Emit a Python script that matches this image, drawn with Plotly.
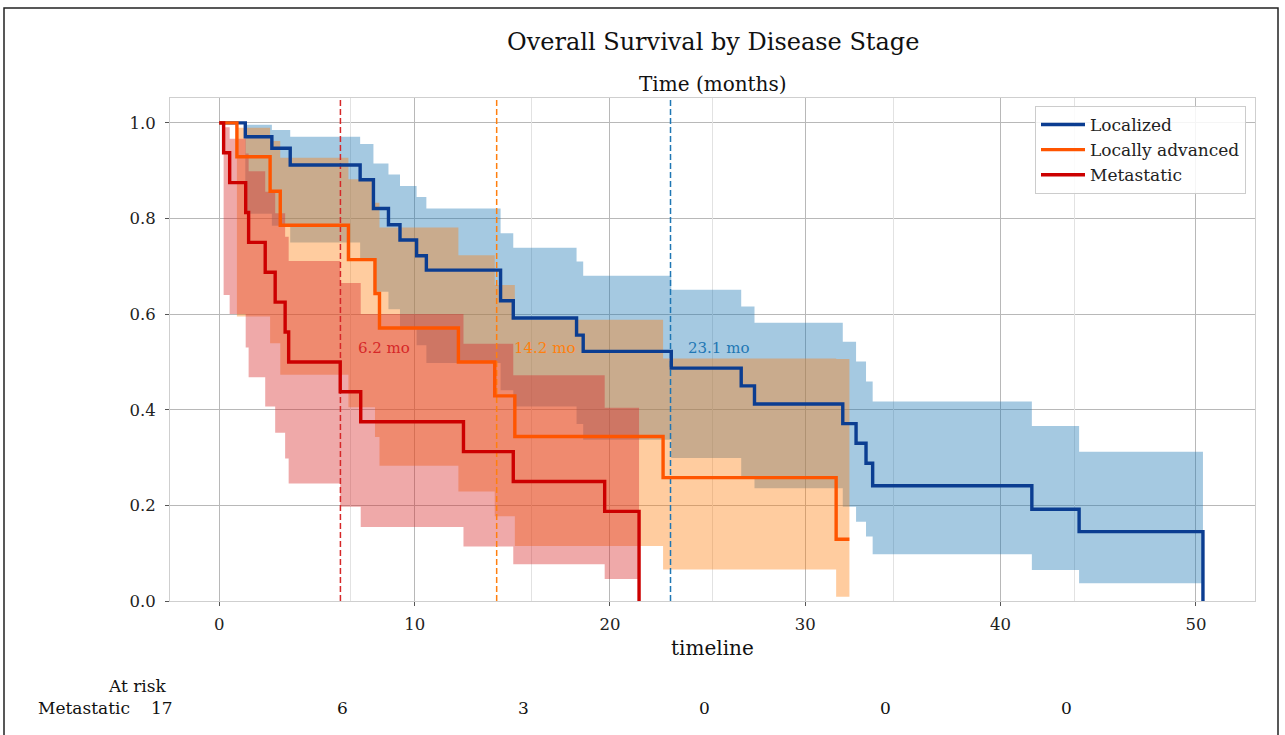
import plotly.graph_objects as go

FONT = "DejaVu Serif"

# ---------------- data ----------------
groups = ["Localized", "Locally advanced", "Metastatic"]

# Localized
t_loc = [0, 1.33, 2.69, 3.63, 7.21, 7.89, 8.66, 9.25, 10.1, 10.6, 14.4, 15.05, 18.29, 18.63,
         23.14, 26.72, 27.4, 31.92, 32.6, 33.11, 33.45, 41.6, 44.02, 50.36]
s_loc = [1.0, 0.971, 0.947, 0.912, 0.881, 0.821, 0.787, 0.755, 0.722, 0.692, 0.628, 0.592, 0.556, 0.522,
         0.487, 0.450, 0.412, 0.371, 0.330, 0.288, 0.241, 0.192, 0.145, 0.0]
up_loc = [1.0, 0.996, 0.985, 0.971, 0.956, 0.915, 0.892, 0.868, 0.845, 0.821, 0.769, 0.739, 0.710, 0.680,
          0.651, 0.616, 0.582, 0.542, 0.501, 0.459, 0.417, 0.366, 0.312]
lo_loc = [1.0, 0.81, 0.785, 0.75, 0.715, 0.647, 0.61, 0.568, 0.535, 0.498, 0.441, 0.407, 0.37, 0.337,
          0.299, 0.26, 0.236, 0.197, 0.166, 0.135, 0.098, 0.065, 0.037]

# Locally advanced
t_la = [0, 0.9, 2.6, 3.12, 6.61, 7.97, 8.2, 12.24, 14.1, 15.13, 22.72, 31.58]
t_la_end = 32.26
s_la = [1.0, 0.929, 0.857, 0.786, 0.714, 0.643, 0.571, 0.5, 0.429, 0.344, 0.258, 0.129]
up_la = [1.0, 0.99, 0.962, 0.927, 0.882, 0.833, 0.781, 0.723, 0.661, 0.588, 0.507, 0.506]
lo_la = [1.0, 0.595, 0.539, 0.473, 0.405, 0.343, 0.283, 0.229, 0.177, 0.115, 0.066, 0.009]

# Metastatic
t_met = [0, 0.22, 0.53, 1.35, 1.5, 2.35, 2.86, 3.37, 3.55, 6.19, 7.24, 12.5, 15.05, 19.73, 21.49]
s_met = [1.0, 0.9375, 0.875, 0.8125, 0.75, 0.6875, 0.625, 0.5625, 0.5, 0.4375, 0.375, 0.3125, 0.25,
         0.1875, 0.0]
up_met = [1.0, 0.991, 0.967, 0.936, 0.899, 0.856, 0.811, 0.762, 0.711, 0.665, 0.6, 0.538, 0.472, 0.404]
lo_met = [1.0, 0.64, 0.60, 0.53, 0.468, 0.407, 0.352, 0.298, 0.246, 0.197, 0.155, 0.114, 0.077, 0.046]

medians = [23.1, 14.2, 6.2]  # Localized, Locally advanced, Metastatic

x_ticks = [0, 10, 20, 30, 40, 50]
y_ticks = [0.0, 0.2, 0.4, 0.6, 0.8, 1.0]

risk_label = "Metastatic"
risk_counts = [17, 6, 3, 0, 0, 0]
risk_pos = [0, 1, 2, 3, 4, 5]

# ---------------- styles ----------------
line_colors = ["#0b3d91", "#ff5500", "#cc0000"]
fill_colors = ["rgba(31,119,180,0.4)", "rgba(255,127,14,0.4)", "rgba(214,39,40,0.4)"]
med_colors = ["#1f77b4", "#ff7f0e", "#d62728"]

fig = go.Figure()

bands = [
    (t_loc, up_loc + [up_loc[-1]], lo_loc + [lo_loc[-1]]),
    (t_la + [t_la_end], up_la + [up_la[-1]], lo_la + [lo_la[-1]]),
    (t_met, up_met + [up_met[-1]], lo_met + [lo_met[-1]]),
]
for (bx, bu, bl), fc in zip(bands, fill_colors):
    fig.add_trace(go.Scatter(x=bx, y=bl, mode="lines", line=dict(width=0, shape="hv"),
                             showlegend=False, hoverinfo="skip"))
    fig.add_trace(go.Scatter(x=bx, y=bu, mode="lines", line=dict(width=0, shape="hv"),
                             fill="tonexty", fillcolor=fc, showlegend=False, hoverinfo="skip"))

YMAX = 1.052
for m, c in zip(medians, med_colors):
    fig.add_trace(go.Scatter(x=[m, m], y=[0, YMAX], mode="lines",
                             line=dict(color=c, width=1.5, dash="6px,3px"),
                             showlegend=False, hoverinfo="skip"))

lines = [
    (t_loc, s_loc),
    (t_la + [t_la_end], s_la + [s_la[-1]]),
    (t_met, s_met),
]
for (lx, ly), name, lc in zip(lines, groups, line_colors):
    fig.add_trace(go.Scatter(x=lx, y=ly, mode="lines", name=name, legendgroup=name,
                             line=dict(color=lc, width=3.4, shape="hv")))

# invisible trace to activate the top twin axis
fig.add_trace(go.Scatter(x=[0, 6], y=[None, None], xaxis="x2", yaxis="y", mode="lines",
                         showlegend=False, hoverinfo="skip"))

TXT = "#111"
annotations = []
for m, c in zip(medians, med_colors):
    annotations.append(dict(x=m + 0.8, y=0.529, xref="x", yref="y", text=f"{m:.1f} mo",
                            showarrow=False, xanchor="left", yanchor="middle",
                            font=dict(family=FONT, size=15, color=c)))

annotations.append(dict(x=0.5, y=(601 - 42) / 503, xref="paper", yref="paper",
                        text="Overall Survival by Disease Stage", showarrow=False,
                        xanchor="center", yanchor="middle",
                        font=dict(family=FONT, size=24, color=TXT)))
annotations.append(dict(x=0.5, y=(601 - 84) / 503, xref="paper", yref="paper", text="Time (months)",
                        showarrow=False, xanchor="center", yanchor="middle",
                        font=dict(family=FONT, size=20, color=TXT)))
annotations.append(dict(x=0.5, y=(601 - 648) / 503, xref="paper", yref="paper", text="timeline",
                        showarrow=False, xanchor="center", yanchor="middle",
                        font=dict(family=FONT, size=20, color=TXT)))
annotations.append(dict(x=(169 - 170) / 1085, y=(601 - 686) / 503, xref="paper", yref="paper",
                        text="At risk", showarrow=False, xanchor="right", yanchor="middle",
                        font=dict(family=FONT, size=17, color=TXT)))
annotations.append(dict(x=(132 - 170) / 1085, y=(601 - 708) / 503, xref="paper", yref="paper",
                        text=risk_label, showarrow=False, xanchor="right", yanchor="middle",
                        font=dict(family=FONT, size=17, color=TXT)))
for p, n in zip(risk_pos, risk_counts):
    annotations.append(dict(x=p, y=(601 - 708) / 503, xref="x2", yref="paper", text=str(n),
                            showarrow=False, xanchor="center", yanchor="middle", xshift=-8,
                            font=dict(family=FONT, size=17, color=TXT)))

fig.update_layout(
    width=1285, height=735,
    margin=dict(l=170, r=30, t=98, b=134),
    paper_bgcolor="white", plot_bgcolor="white",
    font=dict(family=FONT, size=16, color="#222"),
    xaxis=dict(range=[-2.525, 53.025], tickvals=x_ticks, ticktext=[str(v) for v in x_ticks],
               showgrid=True, gridcolor="#b8b8b8", gridwidth=1, zeroline=False,
               showline=True, linecolor="#cfcfcf", linewidth=1, mirror=True,
               ticks="outside", ticklen=4, tickcolor="#555", ticklabelstandoff=4,
               tickfont=dict(family=FONT, size=16.5, color="#222")),
    xaxis2=dict(overlaying="x", side="top", range=[0, 6], dtick=1, tick0=0,
                showgrid=True, gridcolor="#e2e2e2", gridwidth=1, zeroline=False,
                showticklabels=False, ticks="", showline=False),
    yaxis=dict(range=[0, YMAX], tickvals=y_ticks, ticktext=[f"{v:.1f}" for v in y_ticks],
               showgrid=True, gridcolor="#b8b8b8", gridwidth=1, zeroline=False,
               showline=True, linecolor="#cfcfcf", linewidth=1, mirror=True,
               ticks="outside", ticklen=4, tickcolor="#555", ticklabelstandoff=6,
               tickfont=dict(family=FONT, size=16.5, color="#222")),
    legend=dict(x=(1246 - 170) / 1085, y=(601 - 106) / 503, xanchor="right", yanchor="top",
                bgcolor="rgba(255,255,255,0.85)", bordercolor="#cccccc", borderwidth=1,
                font=dict(family=FONT, size=17, color="#222"),
                traceorder="grouped", tracegroupgap=0, itemwidth=44),
    annotations=annotations,
    shapes=[dict(type="rect", xref="paper", yref="paper",
                 x0=(4 - 170) / 1085, x1=(1278 - 170) / 1085,
                 y0=(601 - 745) / 503, y1=(601 - 8) / 503,
                 line=dict(color="#222", width=1.5), fillcolor="rgba(0,0,0,0)", layer="above")],
    showlegend=True,
)

fig.write_html("out.html")
